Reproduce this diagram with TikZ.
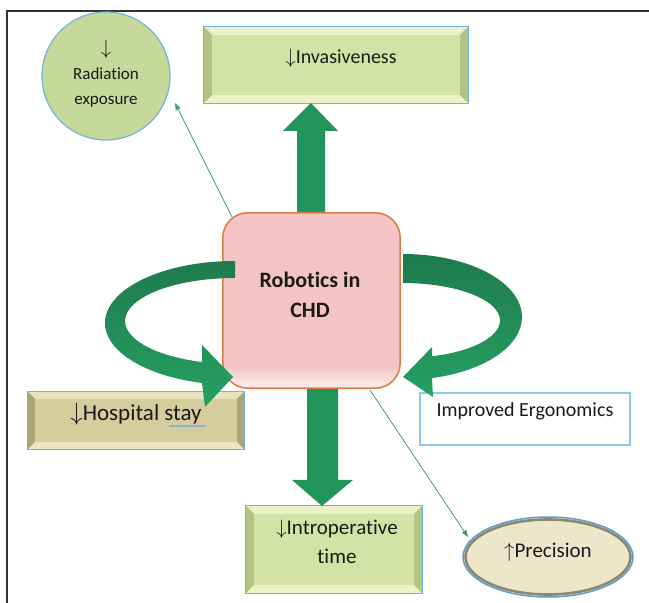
\documentclass[tikz,border=0pt]{standalone}
\usepackage{fontspec}
\setmainfont{Carlito}[Ligatures=CommonOff]
\usetikzlibrary{calc,arrows.meta,shapes.geometric}
\definecolor{gdark}{HTML}{1E7B4B}
\definecolor{gmid}{HTML}{21915A}
\definecolor{glight}{HTML}{26A062}
\definecolor{gstraight}{HTML}{22955A}
\definecolor{thinline}{HTML}{3E9C70}
\definecolor{bordblue}{HTML}{6EB5DC}
\definecolor{invfill}{HTML}{D4E3A5}
\definecolor{invtop}{HTML}{E9F1C9}
\definecolor{invside}{HTML}{B3C483}
\definecolor{invbot}{HTML}{EDF2C6}
\definecolor{hospfill}{HTML}{D5CD9E}
\definecolor{hosptop}{HTML}{E8E2BE}
\definecolor{hospside}{HTML}{ADA576}
\definecolor{hospbot}{HTML}{ECE6C4}
\definecolor{radfill}{HTML}{C7D89B}
\definecolor{pinkfill}{HTML}{F4C3C3}
\definecolor{orangeb}{HTML}{E07A45}
\definecolor{precfill}{HTML}{ECE7CA}
\definecolor{precring}{HTML}{8C8870}
\definecolor{precblue}{HTML}{5A9FD4}
\definecolor{ergob}{HTML}{8DC8F0}
\definecolor{txtc}{HTML}{1A1A1A}
\newcommand\dn{$\downarrow$}
\newcommand\upa{$\uparrow$}
\newcommand\mybevel[5]{%
  \fill[#3] (#1.north west) -- (#1.north east) -- ($(#1.north east)+(-#2,-#2)$) -- ($(#1.north west)+(#2,-#2)$) -- cycle;
  \fill[#5] (#1.south west) -- (#1.south east) -- ($(#1.south east)+(-#2,#2)$) -- ($(#1.south west)+(#2,#2)$) -- cycle;
  \fill[#4] (#1.north west) -- (#1.south west) -- ($(#1.south west)+(#2,#2)$) -- ($(#1.north west)+(#2,-#2)$) -- cycle;
  \fill[#4] (#1.north east) -- (#1.south east) -- ($(#1.south east)+(-#2,#2)$) -- ($(#1.north east)+(-#2,-#2)$) -- cycle;
  \draw[bordblue, line width=1.3pt] (#1.north west) rectangle (#1.south east);
}
\begin{document}
\begin{tikzpicture}[x=1pt,y=1pt,
  boxshape/.style={rectangle, inner sep=0pt, draw=none},
  txt/.style={font=\fontsize{20}{26}\selectfont, text=txtc, align=center, inner sep=0pt},
  thinarrow/.style={draw=thinline, line width=0.8pt, -{Triangle[length=7pt,width=5pt]}}
]
\useasboundingbox (0,0) rectangle (649,603);
\fill[white] (0,0) rectangle (649,603);

% frame
\draw[black!80, line width=1.6pt] (7,0) -- (7,592) -- (649,592);

% thin arrows (under the central box)
\coordinate (a1s) at (232,386);
\coordinate (a1e) at (175,500);
\coordinate (a2s) at (370,213);
\coordinate (a2e) at (468,66);
\draw[thinarrow] (a1s) -- (a1e);
\draw[thinarrow] (a2s) -- (a2e);

% radiation circle
\node[circle, minimum size=128pt, inner sep=0pt, fill=radfill, draw=bordblue, line width=1.2pt] (rad) at (106,527) {};
\node[txt, font=\fontsize{17}{25}\selectfont] (trad) at (106,529) {{\fontsize{21}{25}\selectfont\dn}\\Radiation\\exposure};

% invasiveness box
\node[boxshape, minimum width=264pt, minimum height=76pt, fill=invfill] (inv) at (336,538) {};
\mybevel{inv}{8}{invtop}{invside}{invbot}
\node[txt] (tinv) at (341,545) {\dn Invasiveness};

% hospital stay box
\node[boxshape, minimum width=216pt, minimum height=57pt, fill=hospfill] (hosp) at (136,182.5) {};
\mybevel{hosp}{7}{hosptop}{hospside}{hospbot}
\node[txt, font=\fontsize{23}{28}\selectfont] (thosp) at (136,189) {\dn Hospital stay};
\draw[ergob!70!gray, line width=1.2pt] (169,177) -- (206,177);

% ergonomics box
\node[boxshape, minimum width=210pt, minimum height=52pt, fill=white, draw=ergob, line width=1.3pt] (ergo) at (525,184) {};
\node[txt] (tergo) at (525,192) {Improved Ergonomics};

% intraoperative box
\node[boxshape, minimum width=176pt, minimum height=87pt, fill=invfill] (intra) at (334,53.5) {};
\mybevel{intra}{8}{invtop}{invside}{invbot}
\node[txt, font=\fontsize{21}{29}\selectfont] (tintra) at (337,61) {\dn Introperative\\time};

% precision ellipse
\node[ellipse, minimum width=170pt, minimum height=80pt, inner sep=0pt, fill=precfill, draw=precblue, line width=1.5pt] (prec) at (548,46) {};
\draw[precring, line width=2.6pt] (prec.center) ellipse[x radius=82.5pt, y radius=37.5pt];
\node[txt, font=\fontsize{21}{26}\selectfont] (tprec) at (548,51) {\upa Precision};

% big straight arrows
\fill[gstraight] (297,391) -- (297,472) -- (283,472) -- (311,500) -- (338,472) -- (325,472) -- (325,391) -- cycle;
\fill[gstraight] (307,215) -- (307,123) -- (292,123) -- (322,97) -- (353,123) -- (338,123) -- (338,215) -- cycle;

% central rounded box
\node[rectangle, rounded corners=25pt, minimum width=177pt, minimum height=175pt, inner sep=0pt, fill=pinkfill] (ctr) at (311.5,302.5) {};
\begin{scope}
  \clip[rounded corners=25pt] (ctr.south west) rectangle (ctr.north east);
  \shade[top color=pinkfill, bottom color=white!75!pinkfill] ($(ctr.south west)+(0,0)$) rectangle ($(ctr.south east)+(0,22)$);
\end{scope}
\draw[orangeb, line width=1.5pt, rounded corners=25pt] (ctr.south west) rectangle (ctr.north east);
\node[txt, font=\bfseries\fontsize{22}{30}\selectfont] (tctr) at (310,308) {Robotics in\\CHD};

% curved arrows
\shade[top color=gdark, middle color=gmid, bottom color=glight]
  (235,342) arc[start angle=90, end angle=255.3, x radius=130pt, y radius=62pt]
  -- (205,196) -- (233,226) -- (202,258) -- (202,241)
  arc[start angle=252.5, end angle=90, x radius=110pt, y radius=43pt] -- cycle;
\shade[top color=gdark, middle color=gmid, bottom color=glight]
  (403,349) arc[start angle=90, end angle=-75.9, x radius=119pt, y radius=63pt]
  -- (433,206) -- (403,226) -- (432,256) -- (432,246.7)
  arc[start angle=-72.6, end angle=90, x radius=97pt, y radius=37.5pt] -- cycle;
\end{tikzpicture}
\end{document}
